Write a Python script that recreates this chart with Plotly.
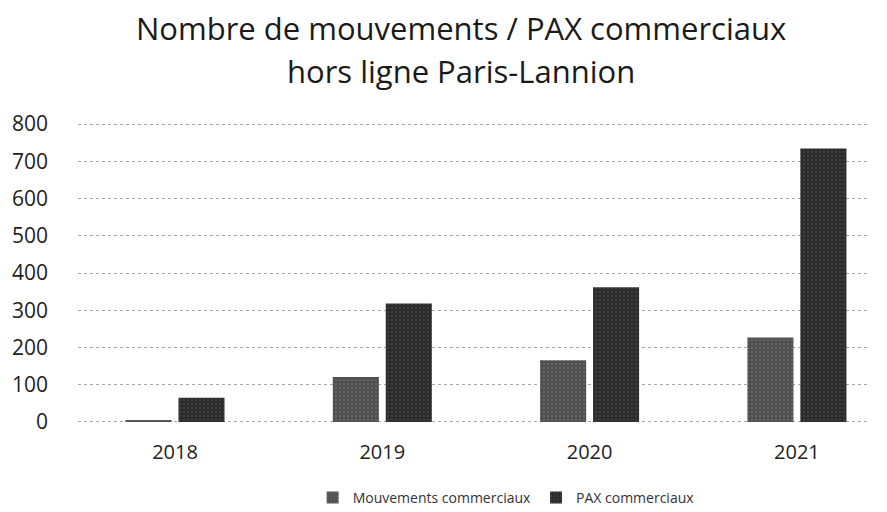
import plotly.graph_objects as go

years = ["2018", "2019", "2020", "2021"]
mouvements = [3, 121, 166, 227]
pax = [65, 318, 362, 734]
y_ticks = [0, 100, 200, 300, 400, 500, 600, 700, 800]
title_lines = ["Nombre de mouvements / PAX commerciaux", "hors ligne Paris-Lannion"]

FONT = "Open Sans"

fig = go.Figure()
fig.add_trace(go.Bar(
    x=years, y=mouvements, name="Mouvements commerciaux",
    marker=dict(color="#505050", line=dict(width=0),
                pattern=dict(shape=".", fgcolor="#a0a0a0", size=4, solidity=0.15)),
))
fig.add_trace(go.Bar(
    x=years, y=pax, name="PAX commerciaux",
    marker=dict(color="#2c2c2c", line=dict(width=0),
                pattern=dict(shape=".", fgcolor="#8a8a8a", size=4, solidity=0.12)),
))

fig.add_annotation(text=title_lines[0], xref="paper", yref="paper", x=0.485, y=1.310,
                   xanchor="center", yanchor="middle", showarrow=False,
                   font=dict(family=FONT, size=31, color="#1a1a1a"))
fig.add_annotation(text=title_lines[1], xref="paper", yref="paper", x=0.485, y=1.170,
                   xanchor="center", yanchor="middle", showarrow=False,
                   font=dict(family=FONT, size=31, color="#1a1a1a"))

fig.update_layout(
    width=887, height=512,
    paper_bgcolor="white", plot_bgcolor="white",
    margin=dict(l=78, r=19, t=122, b=88, autoexpand=False),
    barmode="group", bargap=0.489, bargroupgap=0.13,
    font=dict(family=FONT, color="#222"),
    showlegend=True,
    legend=dict(orientation="h", x=0.297, xanchor="left", y=-0.245, yanchor="middle",
                font=dict(size=14, color="#333"), itemwidth=30),
    xaxis=dict(showgrid=False, showline=False, ticks="", automargin=False,
               range=[-0.468, 3.343],
               tickfont=dict(size=20, color="#222"), ticklabelstandoff=14),
    yaxis=dict(range=[-5.4, 805.4], tickvals=y_ticks, showline=False, zeroline=False,
               automargin=False,
               gridcolor="#a8a8a8", griddash="dot", gridwidth=1,
               tickfont=dict(size=21, color="#222"), ticklabelstandoff=29),
)

fig.write_html("out.html", config={"displayModeBar": False},
               post_script="document.body.style.margin='0';document.body.style.overflow='hidden';")
